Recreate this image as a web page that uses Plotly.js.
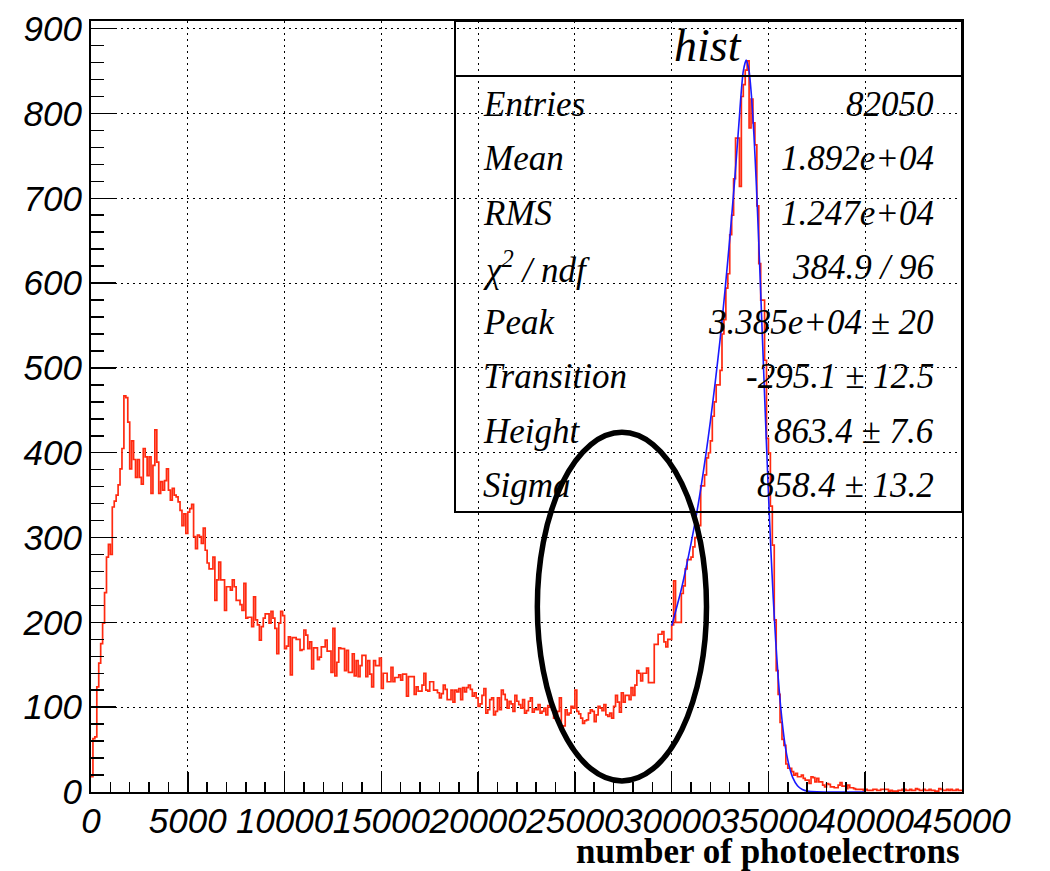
<!DOCTYPE html>
<html>
<head>
<meta charset="utf-8">
<script src="https://cdn.plot.ly/plotly-3.0.1.min.js"></script>
<style>html,body{margin:0;padding:0;background:#fff;}#chart{width:1050px;height:871px;}</style>
</head>
<body>
<div id="chart"></div>
<script>
// ---- histogram: 450 bins of width 100 from 0 to 45000 ----
const binMin = 0;
const binWidth = 100;
const counts = [
  18, 63, 65, 124, 152, 175, 199, 235, 277, 292,
  280, 336, 343, 350, 362, 381, 405, 467, 465, 436,
  381, 414, 392, 371, 392, 371, 363, 405, 395, 373,
  395, 352, 385, 427, 389, 352, 366, 356, 367, 381,
  356, 344, 358, 350, 348, 342, 332, 314, 328, 305,
  330, 334, 339, 301, 287, 303, 301, 293, 311, 285,
  270, 263, 263, 277, 226, 250, 271, 250, 250, 214,
  242, 242, 238, 250, 242, 226, 226, 221, 214, 246,
  205, 206, 206, 195, 230, 203, 197, 179, 195, 205,
  210, 210, 199, 213, 205, 193, 163, 199, 213, 208,
  169, 172, 183, 138, 182, 182, 180, 180, 167, 168,
  191, 185, 169, 177, 145, 170, 170, 156, 159, 171,
  171, 179, 166, 166, 141, 193, 137, 153, 170, 169,
  169, 143, 167, 141, 141, 163, 137, 155, 136, 149,
  161, 161, 136, 155, 139, 124, 155, 149, 149, 158,
  122, 140, 140, 130, 130, 147, 130, 135, 135, 138,
  132, 139, 139, 113, 136, 136, 136, 115, 124, 119,
  119, 126, 140, 120, 119, 130, 130, 120, 120, 117,
  111, 116, 126, 121, 109, 109, 120, 106, 120, 118,
  122, 109, 123, 118, 123, 126, 121, 113, 117, 111,
  101, 104, 114, 122, 93, 97, 109, 111, 91, 95,
  111, 97, 120, 115, 109, 99, 107, 104, 95, 114,
  107, 103, 99, 109, 93, 96, 107, 111, 94, 98,
  97, 103, 93, 95, 99, 91, 102, 100, 97, 87,
  89, 95, 111, 74, 78, 97, 91, 93, 101, 99,
  120, 95, 92, 87, 81, 84, 85, 93, 97, 95,
  83, 91, 101, 99, 96, 103, 91, 89, 93, 87,
  101, 114, 106, 94, 117, 106, 114, 114, 109, 123,
  114, 126, 143, 140, 131, 140, 140, 146, 129, 129,
  129, 174, 174, 186, 186, 189, 177, 171, 180, 180,
  197, 249, 200, 200, 200, 234, 243, 263, 274, 274,
  277, 289, 300, 314, 314, 361, 361, 374, 394, 400,
  414, 443, 460, 480, 480, 497, 540, 557, 594, 611,
  657, 680, 723, 771, 771, 714, 820, 834, 851, 862,
  783, 817, 789, 763, 691, 623, 580, 580, 509, 417,
  400, 337, 291, 203, 143, 115, 82, 62, 55, 33,
  28, 28, 24, 20, 22, 18, 18, 20, 16, 14,
  14, 10, 18, 17, 12, 16, 12, 12, 8, 6,
  10, 9, 6, 6, 5, 5, 8, 11, 7, 7,
  4, 8, 5, 5, 4, 3, 3, 3, 3, 2,
  3, 2, 2, 2, 3, 3, 2, 2, 3, 3,
  3, 3, 1, 2, 1, 1, 1, 2, 2, 3,
  3, 2, 2, 3, 2, 2, 4, 3, 2, 2,
  3, 2, 2, 3, 2, 2, 1, 1, 4, 3,
  2, 2, 3, 2, 3, 2, 2, 3, 2, 2
];

// ---- fit curve ----
const fitX = [30000, 30250, 30500, 30750, 31000, 31250, 31500, 31750, 32000, 32250,
  32500, 32750, 33000, 33250, 33500, 33555, 33700, 33850, 34000, 34125,
  34250, 34375, 34500, 34625, 34750, 34875, 35000, 35125, 35250, 35375,
  35500, 35625, 35750, 35875, 36000, 36125, 36250, 36500, 36750, 37000,
  37500, 38000, 39000, 40000];
const fitY = [196, 217, 239, 265, 293, 323, 357, 395, 437, 483,
  533, 590, 652, 720, 796, 814, 850, 863, 850, 820,
  775, 716, 648, 574, 498, 423, 352, 286, 228, 178,
  136, 102, 74.5, 53, 37.5, 25.8, 17.3, 7.4, 2.9, 1.0,
  0.1, 0, 0, 0];

// ---- stats box ----
const statLabels = ["Entries", "Mean", "RMS", "\u03c7<sup>2</sup> / ndf", "Peak", "Transition", "Height", "Sigma"];
const statValues = ["82050", "1.892e+04", "1.247e+04", "384.9 / 96", "3.385e+04 \u00b1 20", "-295.1 \u00b1 12.5", "863.4 \u00b1 7.6", "858.4 \u00b1 13.2"];
const statTitle = "hist";
const xTickVals = [0, 5000, 10000, 15000, 20000, 25000, 30000, 35000, 40000, 45000];
const yTickVals = [0, 100, 200, 300, 400, 500, 600, 700, 800, 900];
const xTitle = "number of photoelectrons";

// bin edges for the step outline
const edges = [];
const stepY = [];
for (let i = 0; i < counts.length; i++) { edges.push(binMin + i * binWidth); stepY.push(counts[i]); }
edges.push(binMin + counts.length * binWidth); stepY.push(counts[counts.length - 1]);

// plot-area pixel geometry
const L = 91, R = 962, T = 21, B = 792;
const W = 1050, H = 871;
const px = x => (x - L) / (R - L);
const py = y => (B - y) / (B - T);

const serif = "Liberation Serif";
const boxFont = {family: serif, size: 35, style: "italic", color: "black"};

const annotations = [];
const rowTop = 76, rowH = 54.5;
for (let k = 0; k < statLabels.length; k++) {
  const yc = rowTop + rowH * (k + 0.5) + 1;
  annotations.push({xref: "paper", yref: "paper", x: px(481), y: py(yc), xanchor: "left", yanchor: "middle",
    text: statLabels[k], showarrow: false, font: boxFont});
  annotations.push({xref: "paper", yref: "paper", x: px(936), y: py(yc), xanchor: "right", yanchor: "middle",
    text: statValues[k], showarrow: false, font: boxFont});
}
annotations.push({xref: "paper", yref: "paper", x: px(708), y: py(45), xanchor: "center", yanchor: "middle",
  text: statTitle, showarrow: false, font: {family: serif, size: 46, style: "italic", color: "black"}});
annotations.push({xref: "paper", yref: "paper", x: 1, y: py(851), xanchor: "right", yanchor: "middle",
  text: xTitle, showarrow: false, font: {family: serif, size: 35, weight: "bold", color: "black"}});

const shapes = [
  {type: "rect", xref: "paper", yref: "paper", x0: px(455), x1: px(962), y0: py(512), y1: py(21),
   line: {color: "black", width: 2}, fillcolor: "rgba(0,0,0,0)", layer: "above"},
  {type: "line", xref: "paper", yref: "paper", x0: px(455), x1: px(962), y0: py(76), y1: py(76),
   line: {color: "black", width: 2}, layer: "above"},
  {type: "circle", xref: "x", yref: "y", x0: 23060, x1: 31800, y0: 13, y1: 424,
   line: {color: "black", width: 5.5}, fillcolor: "rgba(0,0,0,0)", layer: "above"}
];

const tickFont = {family: "Liberation Sans", size: 35, style: "italic", color: "black"};

const data = [
  {x: edges, y: stepY, type: "scatter", mode: "lines", line: {shape: "hv", color: "#ff2a10", width: 1.7},
   hoverinfo: "skip", showlegend: false},
  {x: fitX, y: fitY, type: "scatter", mode: "lines", line: {shape: "spline", smoothing: 0.6, color: "#1a1aff", width: 1.6},
   hoverinfo: "skip", showlegend: false}
];

const layout = {
  width: W, height: H,
  margin: {l: L, r: W - R, t: T, b: H - B, pad: 0},
  paper_bgcolor: "white", plot_bgcolor: "white",
  showlegend: false,
  xaxis: {
    range: [0, 45000], tickmode: "array", tickvals: xTickVals, ticktext: xTickVals.map(String),
    tickangle: 0,
    ticks: "inside", ticklen: 20, tickwidth: 1.5, tickcolor: "black",
    minor: {dtick: 1000, tick0: 0, ticks: "inside", ticklen: 10, tickwidth: 1.5, tickcolor: "black", showgrid: false},
    showgrid: true, gridcolor: "black", gridwidth: 1, griddash: "2px,4px",
    showline: true, mirror: true, linecolor: "black", linewidth: 2,
    zeroline: false, tickfont: tickFont, ticklabelstandoff: -3, automargin: false
  },
  yaxis: {
    range: [0, 909], tickmode: "array", tickvals: yTickVals, ticktext: yTickVals.map(String),
    ticks: "inside", ticklen: 25, tickwidth: 1.5, tickcolor: "black",
    minor: {dtick: 20, tick0: 0, ticks: "inside", ticklen: 13, tickwidth: 1.5, tickcolor: "black", showgrid: false},
    showgrid: true, gridcolor: "black", gridwidth: 1, griddash: "2px,4px",
    showline: true, mirror: true, linecolor: "black", linewidth: 2,
    zeroline: false, tickfont: tickFont, ticklabelstandoff: 0, automargin: false
  },
  annotations: annotations,
  shapes: shapes
};

Plotly.newPlot("chart", data, layout, {staticPlot: true, displayModeBar: false});
</script>
</body>
</html>
